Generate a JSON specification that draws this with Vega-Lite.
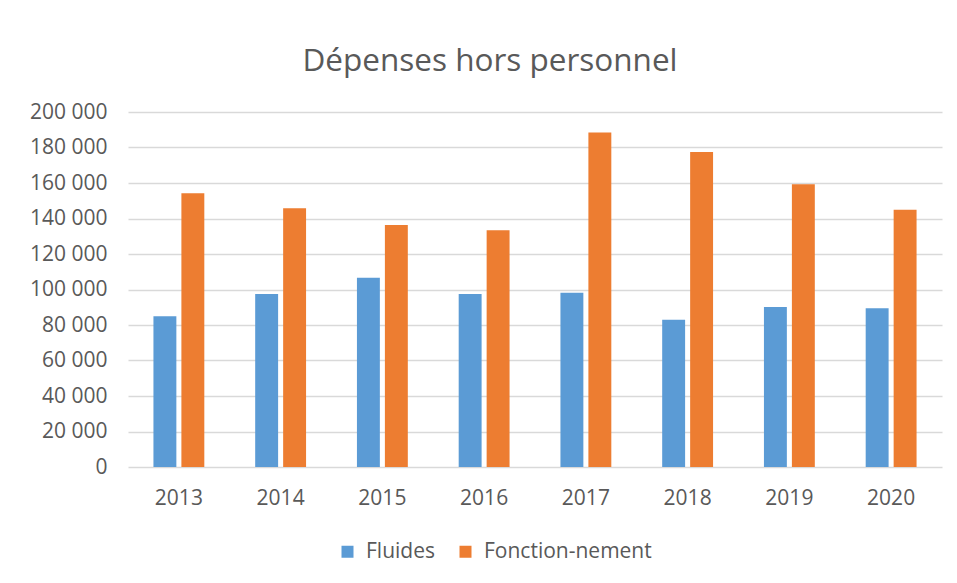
{
  "$schema": "https://vega.github.io/schema/vega-lite/v6.json",
  "width": 814,
  "height": 355,
  "autosize": {"type": "none"},
  "padding": {"left": 128, "top": 112, "right": 15, "bottom": 116},
  "background": "white",
  "config": {
    "view": {"stroke": null},
    "font": "Open Sans",
    "locale": {"number": {"decimal": ",", "thousands": " ", "grouping": [3], "currency": ["", " €"]}}
  },
  "title": {
    "text": "Dépenses hors personnel",
    "fontSize": 31.5,
    "font": "Open Sans",
    "fontWeight": "normal",
    "color": "#595959",
    "baseline": "alphabetic",
    "offset": -1,
    "dx": -45
  },
  "data": {
    "values": [
      {"year": "2013", "series": "Fluides", "value": 85000},
      {"year": "2013", "series": "Fonction-nement", "value": 154200},
      {"year": "2014", "series": "Fluides", "value": 97400},
      {"year": "2014", "series": "Fonction-nement", "value": 145800},
      {"year": "2015", "series": "Fluides", "value": 106600},
      {"year": "2015", "series": "Fonction-nement", "value": 136400},
      {"year": "2016", "series": "Fluides", "value": 97400},
      {"year": "2016", "series": "Fonction-nement", "value": 133400},
      {"year": "2017", "series": "Fluides", "value": 98100},
      {"year": "2017", "series": "Fonction-nement", "value": 188400},
      {"year": "2018", "series": "Fluides", "value": 82900},
      {"year": "2018", "series": "Fonction-nement", "value": 177500},
      {"year": "2019", "series": "Fluides", "value": 90200},
      {"year": "2019", "series": "Fonction-nement", "value": 159300},
      {"year": "2020", "series": "Fluides", "value": 89500},
      {"year": "2020", "series": "Fonction-nement", "value": 145000}
    ]
  },
  "mark": {"type": "bar"},
  "encoding": {
    "x": {
      "field": "year",
      "type": "nominal",
      "title": null,
      "scale": {"paddingInner": 0.5, "paddingOuter": 0.25},
      "axis": {
        "labelAngle": 0,
        "labelFontSize": 21,
        "labelColor": "#595959",
        "labelFont": "Open Sans",
        "labelPadding": 20,
        "ticks": false,
        "domain": false
      }
    },
    "xOffset": {
      "field": "series",
      "type": "nominal",
      "scale": {"domain": ["Fluides", "Fonction-nement"], "paddingInner": 0.18}
    },
    "y": {
      "field": "value",
      "type": "quantitative",
      "title": null,
      "scale": {"domain": [0, 200000], "nice": false},
      "axis": {
        "values": [0, 20000, 40000, 60000, 80000, 100000, 120000, 140000, 160000, 180000, 200000],
        "format": ",d",
        "labelFontSize": 21,
        "labelColor": "#595959",
        "labelFont": "Open Sans",
        "labelPadding": 21,
        "ticks": false,
        "domain": false,
        "grid": true,
        "gridColor": "#D9D9D9",
        "gridWidth": 1.5
      }
    },
    "color": {
      "field": "series",
      "type": "nominal",
      "title": null,
      "scale": {"domain": ["Fluides", "Fonction-nement"], "range": ["#5B9BD5", "#ED7D31"]},
      "legend": {
        "orient": "none",
        "direction": "horizontal",
        "legendX": 209,
        "legendY": 429,
        "symbolType": "square",
        "symbolSize": 144,
        "symbolStrokeWidth": 0,
        "labelFontSize": 21,
        "labelLimit": 400,
        "labelColor": "#595959",
        "labelFont": "Open Sans",
        "labelOffset": 8,
        "columnPadding": 20
      }
    }
  }
}
